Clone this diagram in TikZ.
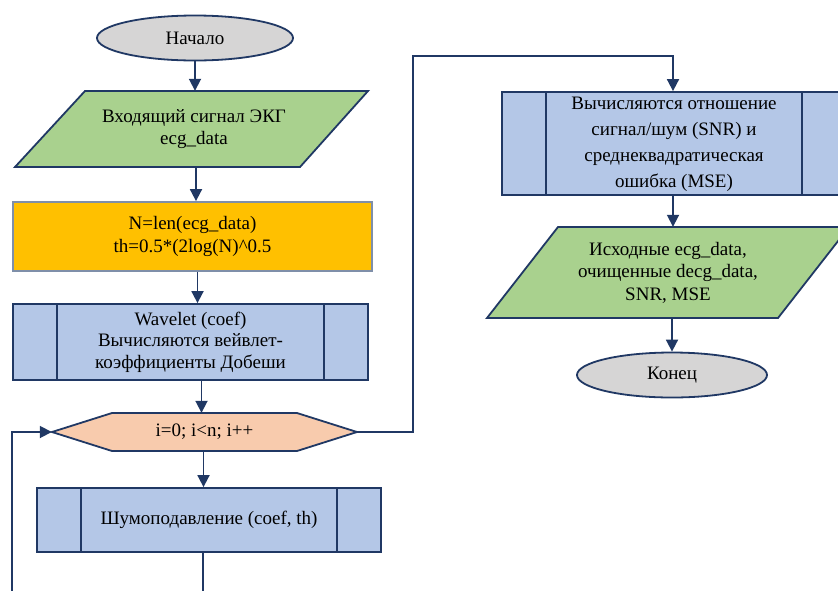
\documentclass[tikz,border=0pt]{standalone}
\usepackage{fontspec}
\setmainfont{Liberation Serif}
\usetikzlibrary{arrows.meta,shapes.geometric,calc}
\definecolor{navy}{HTML}{203864}
\definecolor{termgray}{HTML}{D6D5D5}
\definecolor{iogreen}{HTML}{A9D18E}
\definecolor{calcyellow}{HTML}{FFC000}
\definecolor{calcedge}{HTML}{7F8FA9}
\definecolor{subblue}{HTML}{B4C7E7}
\definecolor{looppeach}{HTML}{F8CBAD}
\begin{document}
\begin{tikzpicture}[x=1pt,y=-1pt,
  txt/.style={font=\fontsize{19}{22.5}\selectfont, align=center, text=black},
  edge/.style={draw=navy, line width=1.8pt},
  term/.style={txt, edge, ellipse, fill=termgray, inner sep=0pt},
  proc/.style={txt, draw=calcedge, line width=1.8pt, fill=calcyellow, rectangle, inner sep=0pt},
  sub/.style={txt, edge, rectangle, fill=subblue, inner sep=0pt,
    path picture={
      \draw[navy, line width=1.8pt]
        ([xshift=44pt]path picture bounding box.north west) -- ([xshift=44pt]path picture bounding box.south west)
        ([xshift=-44pt]path picture bounding box.north east) -- ([xshift=-44pt]path picture bounding box.south east);
    }},
  ghost/.style={txt, rectangle, inner sep=0pt},
  shapefill/.style={edge, line join=miter},
  arr/.style={navy, line width=1.8pt, -{Triangle[length=12pt,width=12pt]}},
  plain/.style={navy, line width=1.8pt}
]
\useasboundingbox (0,0) rectangle (838,590);
\clip (0,0) rectangle (838,590);

% terminator: start
\node[term, minimum width=196, minimum height=45] (start) at (195,38) {Начало};

% input parallelogram
\draw[shapefill, fill=iogreen] (85,91) -- (368,91) -- (300,167) -- (15,167) -- cycle;
\node[ghost, minimum width=200, minimum height=76] (in) at (194,129) {Входящий сигнал ЭКГ\\ecg\_data};

% threshold computation
\node[proc, minimum width=359, minimum height=69] (calc) at (192.5,236.5) {N=len(ecg\_data)\\th=0.5*(2log(N)\^{}0.5};

% wavelet subprocess
\node[sub, minimum width=355, minimum height=76, font=\fontsize{19}{21.5}\selectfont] (wav) at (190.5,342) {Wavelet (coef)\\Вычисляются вейвлет-\\коэффициенты Добеши};

% loop header
\draw[shapefill, fill=looppeach] (52,432) -- (112,413) -- (297,413) -- (357,432) -- (297,451) -- (112,451) -- cycle;
\node[ghost, minimum width=305, minimum height=38] (hex) at (204.5,432) {i=0; i<n; i++};

% denoising subprocess
\node[sub, minimum width=344, minimum height=64] (shum) at (209,520) {Шумоподавление (coef, th)};

% metrics subprocess
\node[sub, minimum width=344, minimum height=103, font=\fontsize{19}{26}\selectfont, text depth=3pt] (snr) at (674,143.5) {Вычисляются отношение\\сигнал/шум (SNR) и\\среднеквадратическая\\ошибка (MSE)};

% output parallelogram
\draw[shapefill, fill=iogreen] (558,227) -- (849,227) -- (778,318) -- (487,318) -- cycle;
\node[ghost, minimum width=200, minimum height=91] (out) at (668,272.5) {Исходные ecg\_data,\\очищенные decg\_data,\\SNR, MSE};

% terminator: end
\node[term, minimum width=190, minimum height=45] (end) at (672,375) {Конец};

% loop-back coordinates
\coordinate (loopdown) at (203,600);
\coordinate (loopup) at (12,600);

% connectors
\draw[arr] (start.south) -- (start.south |- in.north);
\draw[arr] ([xshift=2pt]in.south) -- ([xshift=2pt]in.south |- calc.north);
\draw[arr] ([xshift=5pt]calc.south) -- ([xshift=5pt]calc.south |- wav.north);
\draw[arr] ([xshift=11pt]wav.south) -- ([xshift=11pt]wav.south |- hex.north);
\draw[arr] ([xshift=-1pt]hex.south) -- ([xshift=-1pt]hex.south |- shum.north);
\draw[plain] ([xshift=-6pt]shum.south) -- ([xshift=-6pt]shum.south |- loopdown);
\draw[arr] (loopup) -- (loopup |- hex.west) -- (hex.west);
\draw[arr] (hex.east) -- ++(56,0) |- ($(snr.north)+(-1,-35)$) -- ([xshift=-1pt]snr.north);
\draw[arr] ([xshift=-1pt]snr.south) -- ([xshift=-1pt]snr.south |- out.north);
\draw[arr] ([xshift=4pt]out.south) -- ([xshift=4pt]out.south |- end.north);
\end{tikzpicture}
\end{document}
